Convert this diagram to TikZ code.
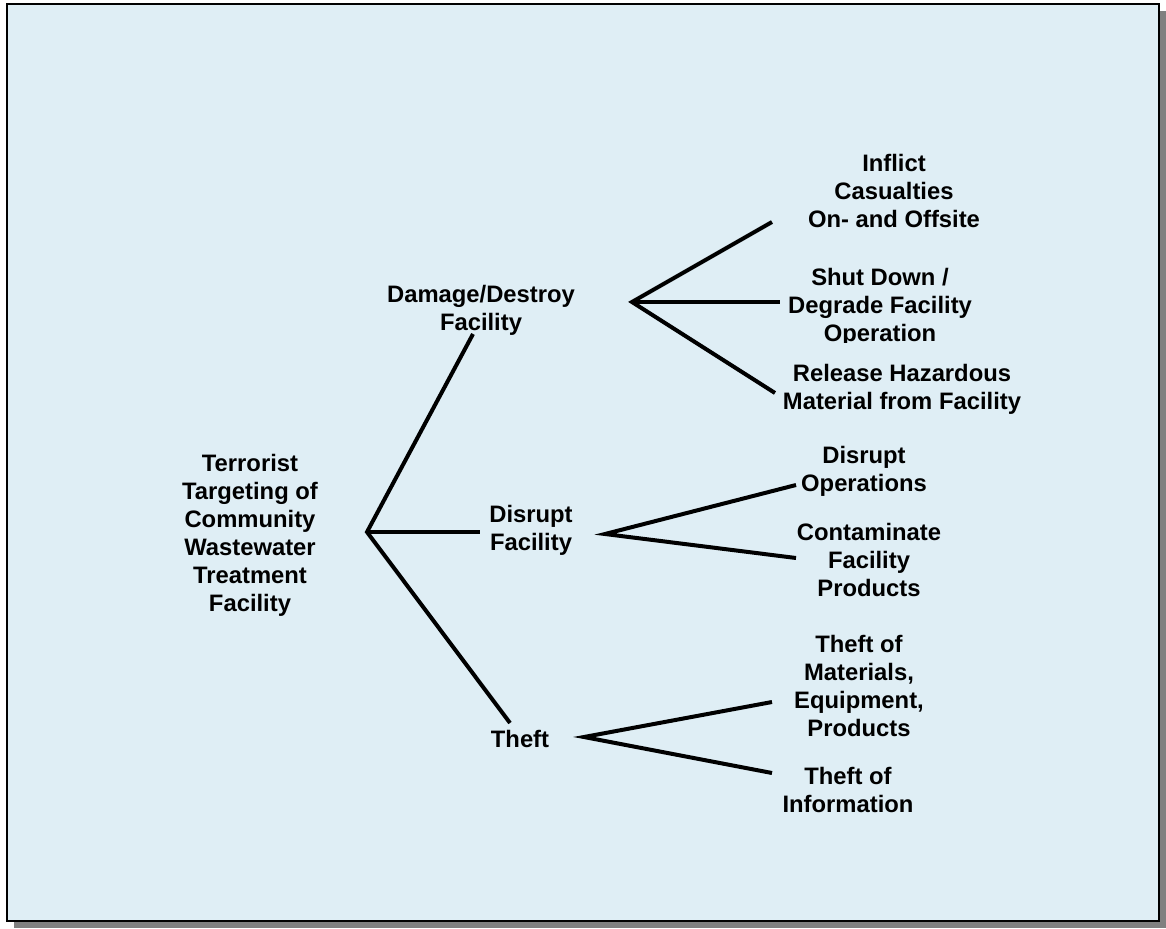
\documentclass[tikz,border=0pt]{standalone}
\usepackage{fontspec}
\setmainfont{Liberation Sans}
\definecolor{panel}{RGB}{223,238,245}
\definecolor{shadowgray}{RGB}{128,128,128}
\begin{document}
\begin{tikzpicture}[x=1pt,y=-1pt,
  lbl/.style={align=center,inner sep=0pt,font=\fontsize{23.8}{28}\selectfont\bfseries},
  branch/.style={line width=4pt,line cap=butt,line join=miter}]
\useasboundingbox (0,0) rectangle (1166,928);
% panel with drop shadow
\fill[shadowgray] (14,11) rectangle (1166,928);
\fill[panel] (7,4) rectangle (1159,921);
\draw[line width=2pt] (7,4) rectangle (1159,921);

% labels
\node[lbl] (root) at (250,535) {Terrorist\\Targeting of\\Community\\Wastewater\\Treatment\\Facility};
\node[lbl] (dmg) at (481,310) {Damage/Destroy\\Facility};
\node[lbl] (dis) at (531,530) {Disrupt\\Facility};
\node[lbl] (theft) at (520,739) {Theft};
\node[lbl] (inflict) at (894,191) {Inflict\\Casualties\\On- and Offsite};
\begin{scope}
  \clip (700,240) rectangle (1100,342);
  \node[lbl] (shut) at (880,307) {Shut Down /\\Degrade Facility\\Operation};
\end{scope}
\node[lbl] (release) at (902,389) {Release Hazardous\\Material from Facility};
\node[lbl] (disops) at (864,471) {Disrupt\\Operations};
\node[lbl] (contam) at (869,560) {Contaminate\\Facility\\Products};
\node[lbl] (thm) at (859,686) {Theft of\\Materials,\\Equipment,\\Products};
\node[lbl] (thi) at (848,790) {Theft of\\Information};

% junctions and branch ends
\coordinate (j0) at (367,532);
\coordinate (e0a) at (473,334);
\coordinate (e0b) at (480,532);
\coordinate (e0c) at (510,723);
\coordinate (j1) at (632,302);
\coordinate (e1a) at (772,222);
\coordinate (e1b) at (780,302);
\coordinate (e1c) at (775,393);
\coordinate (j2) at (605,534);
\coordinate (e2a) at (796,485);
\coordinate (e2b) at (796,558);
\coordinate (j3) at (584,737);
\coordinate (e3a) at (772,702);
\coordinate (e3b) at (772,773);

\draw[branch] (e0a) -- (j0) -- (e0c);
\draw[branch] (j0) -- (e0b);
\draw[branch] (e1a) -- (j1) -- (e1c);
\draw[branch] (j1) -- (e1b);
\draw[branch] (e2a) -- (j2) -- (e2b);
\draw[branch] (e3a) -- (j3) -- (e3b);
\end{tikzpicture}
\end{document}
